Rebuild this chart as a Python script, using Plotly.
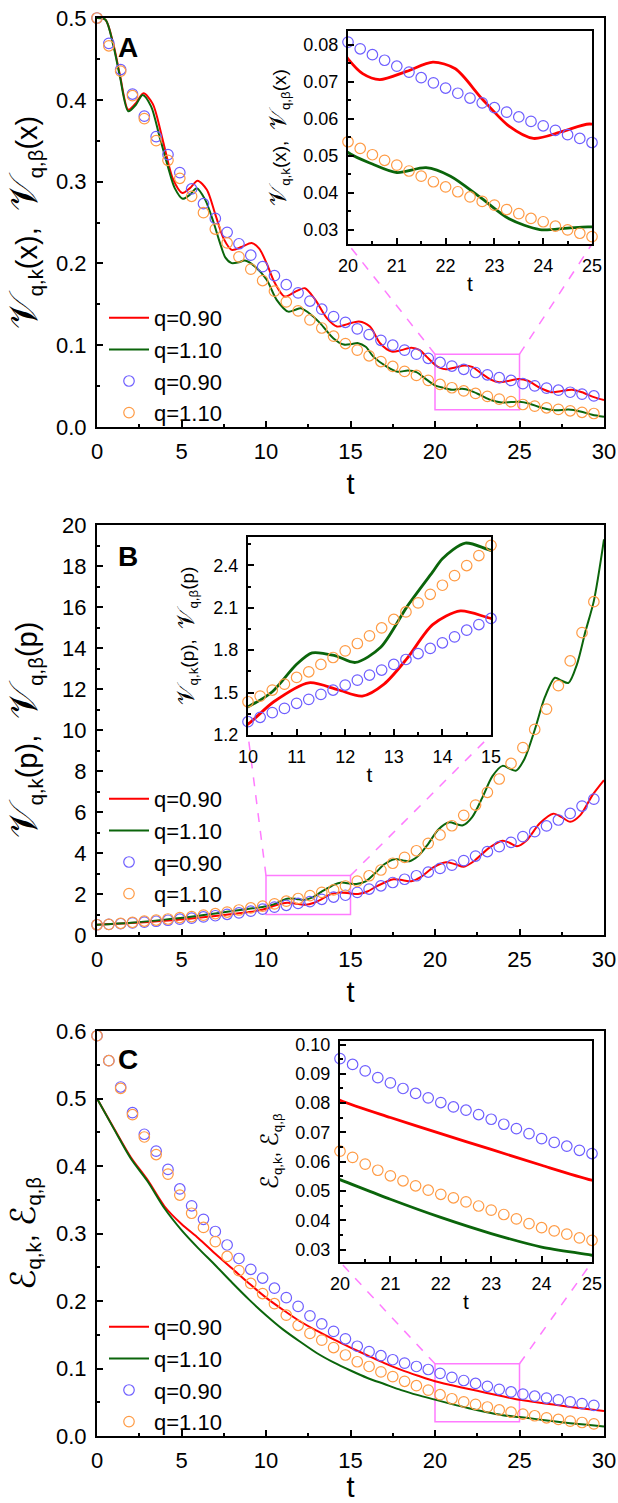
import plotly.graph_objects as go

# ------------------------------------------------------------------ data
# sample times of the circle series (main panels) and of the inset circles
t_circ = [0, 0.7, 1.4, 2.1, 2.8, 3.5, 4.2, 4.9, 5.6, 6.3, 7.0, 7.7, 8.4, 9.1, 9.8,
          10.5, 11.2, 11.9, 12.6, 13.3, 14.0, 14.7, 15.4, 16.1, 16.8, 17.5, 18.2,
          18.9, 19.6, 20.3, 21.0, 21.7, 22.4, 23.1, 23.8, 24.5, 25.2, 25.9, 26.6,
          27.3, 28.0, 28.7, 29.4]
t_inset_AC = [20, 20.25, 20.5, 20.75, 21, 21.25, 21.5, 21.75, 22, 22.25, 22.5,
              22.75, 23, 23.25, 23.5, 23.75, 24, 24.25, 24.5, 24.75, 25]
t_inset_B = [10, 10.25, 10.5, 10.75, 11, 11.25, 11.5, 11.75, 12, 12.25, 12.5,
             12.75, 13, 13.25, 13.5, 13.75, 14, 14.25, 14.5, 14.75, 15]

# Panel A : V(x)
tA_red = [0, 0.5, 0.97, 1.36, 1.85, 2.3, 2.75, 3.3, 3.9, 4.5, 5.05, 5.5, 5.95, 6.5, 7.0,
          7.5, 7.97, 8.55, 9.15, 9.6, 10.04, 10.5, 11.1, 11.7, 12.3, 12.9, 13.6, 14.2,
          14.85, 15.5, 16.15, 16.75, 17.44, 18.0, 18.6, 19.1, 19.5, 20.0, 20.3, 20.65,
          21.2, 21.74, 22.2, 22.74, 23.3, 23.8, 24.4, 24.95, 25.5, 26.2, 26.9, 27.5,
          28.1, 28.7, 29.4, 30.0]
vA_red = [0.500, 0.498, 0.468, 0.430, 0.388, 0.396, 0.408, 0.395, 0.350, 0.303, 0.286,
          0.292, 0.301, 0.290, 0.260, 0.230, 0.2166, 0.220, 0.2248, 0.218, 0.200, 0.177,
          0.1595, 0.165, 0.1697, 0.156, 0.133, 0.1228, 0.126, 0.129, 0.1228, 0.1024,
          0.0922, 0.094, 0.097, 0.094, 0.086, 0.0762, 0.0722, 0.0706, 0.0728, 0.0753,
          0.0735, 0.0655, 0.0580, 0.0547, 0.0566, 0.0586, 0.0565, 0.0480, 0.0425,
          0.0440, 0.0455, 0.0425, 0.0365, 0.0330]
tA_green = [0, 0.5, 0.97, 1.36, 1.85, 2.3, 2.7, 3.2, 3.7, 4.2, 4.6, 5.07, 5.5, 5.9, 6.4,
            6.9, 7.28, 7.6, 7.97, 8.4, 8.75, 9.3, 10.04, 10.63, 11.32, 11.7, 12.05,
            12.5, 13.2, 13.98, 14.6, 15.1, 15.45, 15.9, 16.35, 17.14, 17.8, 18.4, 18.9,
            19.5, 20.0, 20.5, 21.0, 21.6, 22.1, 22.7, 23.3, 23.93, 24.5, 25.0, 25.6,
            26.3, 27.1, 27.9, 28.6, 29.3, 30.0]
vA_green = [0.500, 0.498, 0.466, 0.428, 0.386, 0.394, 0.406, 0.392, 0.355, 0.318, 0.292,
            0.279, 0.284, 0.292, 0.278, 0.250, 0.2248, 0.207, 0.2003, 0.2015, 0.2035,
            0.197, 0.180, 0.1555, 0.141, 0.143, 0.1453, 0.140, 0.127, 0.1086, 0.1008,
            0.1015, 0.1025, 0.098, 0.086, 0.0738, 0.0676, 0.069, 0.067, 0.058, 0.0509,
            0.0478, 0.0455, 0.0468, 0.0445, 0.0389, 0.0330, 0.0301, 0.0305, 0.0308,
            0.0285, 0.0235, 0.0205, 0.0213, 0.0190, 0.0150, 0.0125]
vA_blue = [0.500, 0.469, 0.437, 0.407, 0.380, 0.355, 0.333, 0.311, 0.291, 0.273, 0.255,
           0.238, 0.224, 0.210, 0.196, 0.185, 0.174, 0.164, 0.154, 0.144, 0.135, 0.128,
           0.120, 0.113, 0.106, 0.100, 0.094, 0.089, 0.084, 0.0789, 0.0745, 0.0705,
           0.0666, 0.0638, 0.0603, 0.0569, 0.0530, 0.0503, 0.0475, 0.0450, 0.0425,
           0.0402, 0.0380]
vA_orange = [0.500, 0.466, 0.435, 0.405, 0.377, 0.350, 0.326, 0.304, 0.282, 0.262, 0.242,
             0.225, 0.208, 0.193, 0.179, 0.166, 0.153, 0.142, 0.131, 0.121, 0.111, 0.102,
             0.094, 0.087, 0.080, 0.074, 0.068, 0.063, 0.057, 0.052, 0.048, 0.0441,
             0.041, 0.0374, 0.0341, 0.031, 0.0275, 0.0255, 0.0235, 0.0215, 0.0198,
             0.018, 0.0165]
vA_blue_in = [0.0807, 0.0789, 0.0773, 0.0758, 0.0742, 0.0726, 0.0711, 0.0697, 0.0683,
              0.0669, 0.0656, 0.0643, 0.0630, 0.0618, 0.0605, 0.0593, 0.0581, 0.0569,
              0.0557, 0.0547, 0.0536]
vA_orange_in = [0.0538, 0.0520, 0.0503, 0.0488, 0.0475, 0.0459, 0.0445, 0.0430, 0.0416,
                0.0403, 0.0389, 0.0377, 0.0367, 0.0355, 0.0344, 0.0331, 0.0322, 0.0310,
                0.0300, 0.0291, 0.0282]

# Panel B : V(p)
tB_red = [0, 2, 4, 6, 7, 8, 9, 9.5, 10.0, 10.53, 11.25, 11.85, 12.35, 12.8, 13.27, 13.8,
          14.37, 15.0, 15.45, 16.0, 16.6, 17.55, 18.1, 18.6, 19.2, 19.9, 20.65, 21.2,
          21.7, 22.3, 23.2, 24.0, 24.4, 24.85, 25.4, 26.2, 27.0, 27.5, 28.0, 28.6, 29.3,
          30.0]
vB_red = [0.50, 0.58, 0.69, 0.84, 0.93, 1.02, 1.12, 1.19, 1.278, 1.435, 1.569, 1.52,
          1.475, 1.56, 1.74, 1.98, 2.077, 2.024, 2.00, 2.12, 2.40, 2.72, 2.67, 2.62, 2.85,
          3.30, 3.55, 3.45, 3.33, 3.60, 4.25, 4.60, 4.50, 4.33, 4.60, 5.45, 5.92, 5.75,
          5.52, 5.85, 6.80, 7.55]
tB_green = [0, 2, 4, 6, 7, 8, 9, 9.5, 10.0, 10.5, 11.0, 11.32, 11.8, 12.21, 12.73, 13.27,
            13.8, 14.0, 14.47, 15.0, 15.35, 15.9, 16.5, 17.0, 17.6, 18.1, 18.5, 19.0,
            19.6, 20.2, 20.85, 21.3, 21.65, 22.2, 22.8, 23.4, 24.0, 24.4, 24.8, 25.3,
            25.9, 26.5, 27.1, 27.5, 27.9, 28.4, 28.9, 29.4, 30.0]
vB_green = [0.50, 0.60, 0.75, 0.94, 1.05, 1.17, 1.28, 1.33, 1.40, 1.506, 1.70, 1.781,
            1.76, 1.713, 1.82, 2.106, 2.353, 2.447, 2.557, 2.506, 2.49, 2.62, 3.05, 3.45,
            3.70, 3.64, 3.60, 3.85, 4.45, 5.15, 5.50, 5.40, 5.35, 5.75, 6.70, 7.75, 8.25,
            8.12, 8.02, 8.60, 10.0, 11.6, 12.55, 12.4, 12.3, 13.2, 14.8, 16.3, 19.3]
vB_blue = [0.50, 0.52, 0.55, 0.59, 0.63, 0.67, 0.72, 0.77, 0.82, 0.88, 0.94, 1.01, 1.08,
           1.16, 1.26, 1.36, 1.45, 1.54, 1.63, 1.74, 1.85, 1.94, 2.08, 2.24, 2.40, 2.56,
           2.72, 2.89, 3.07, 3.25, 3.41, 3.63, 3.85, 4.07, 4.31, 4.52, 4.80, 5.04, 5.32,
           5.61, 5.93, 6.29, 6.63]
vB_orange = [0.50, 0.52, 0.57, 0.62, 0.68, 0.73, 0.78, 0.85, 0.90, 0.97, 1.04, 1.12,
             1.22, 1.32, 1.41, 1.52, 1.65, 1.78, 1.92, 2.08, 2.20, 2.39, 2.63, 2.89, 3.17,
             3.50, 3.79, 4.11, 4.47, 4.88, 5.33, 5.84, 6.34, 6.96, 7.61, 8.37, 9.14,
             10.03, 11.02, 12.16, 13.37, 14.75, 16.26]
vB_blue_in = [1.294, 1.325, 1.358, 1.388, 1.424, 1.452, 1.487, 1.518, 1.553, 1.588, 1.624,
              1.659, 1.699, 1.734, 1.776, 1.812, 1.852, 1.894, 1.941, 1.981, 2.024]
vB_orange_in = [1.435, 1.475, 1.518, 1.560, 1.607, 1.647, 1.699, 1.748, 1.795, 1.847,
                1.901, 1.957, 2.017, 2.070, 2.134, 2.195, 2.259, 2.327, 2.398, 2.469, 2.541]

# Panel C : energies
tC_line = [0, 1, 2, 3, 4, 5, 6, 7, 8, 9, 10, 11, 12, 13, 14, 15, 16, 17, 18, 19, 20,
           21, 22, 23, 24, 25, 26, 27, 28, 29, 30]
vC_red = [0.500, 0.456, 0.413, 0.379, 0.340, 0.314, 0.293, 0.270, 0.248, 0.226, 0.205,
          0.187, 0.170, 0.156, 0.143, 0.131, 0.1195, 0.108, 0.098, 0.0892, 0.0810, 0.0751,
          0.0696, 0.0642, 0.0588, 0.0537, 0.0500, 0.0465, 0.0430, 0.0400, 0.0370]
vC_green = [0.500, 0.455, 0.411, 0.377, 0.337, 0.305, 0.278, 0.253, 0.227, 0.202, 0.179,
            0.158, 0.140, 0.123, 0.109, 0.097, 0.086, 0.077, 0.068, 0.0605, 0.0539,
            0.0472, 0.0410, 0.0355, 0.0309, 0.0281, 0.0250, 0.0220, 0.0190, 0.0165, 0.0140]
vC_blue = [0.593, 0.556, 0.517, 0.479, 0.447, 0.422, 0.395, 0.366, 0.341, 0.321, 0.303,
           0.283, 0.263, 0.247, 0.234, 0.219, 0.205, 0.192, 0.178, 0.166, 0.155, 0.144,
           0.133, 0.125, 0.119, 0.113, 0.108, 0.103, 0.0985, 0.0928, 0.0869, 0.0822,
           0.0779, 0.0736, 0.0691, 0.0653, 0.0620, 0.0590, 0.0562, 0.0535, 0.0505,
           0.0480, 0.0455]
vC_orange = [0.593, 0.556, 0.515, 0.476, 0.443, 0.417, 0.388, 0.357, 0.330, 0.309, 0.288,
             0.266, 0.245, 0.226, 0.211, 0.196, 0.179, 0.164, 0.152, 0.142, 0.131, 0.120,
             0.110, 0.103, 0.095, 0.088, 0.081, 0.0745, 0.068, 0.0612, 0.0552, 0.0506,
             0.0468, 0.0430, 0.0386, 0.0353, 0.0325, 0.0300, 0.0270, 0.0245, 0.0220,
             0.0200, 0.0180]
vC_blue_in = [0.0952, 0.0932, 0.0910, 0.0887, 0.0869, 0.0850, 0.0833, 0.0818, 0.0802,
              0.0787, 0.0776, 0.0761, 0.0745, 0.0728, 0.0713, 0.0696, 0.0679, 0.0666,
              0.0653, 0.0639, 0.0628]
vC_orange_in = [0.0636, 0.0615, 0.0592, 0.0571, 0.0552, 0.0535, 0.0518, 0.0503, 0.0489,
                0.0477, 0.0463, 0.0449, 0.0435, 0.0420, 0.0405, 0.0389, 0.0375, 0.0364,
                0.0353, 0.0340, 0.0332]

# zoom windows drawn in the main panels: [t0, t1, v0, v1]
zoom_A = [20, 25, 0.021, 0.089]
zoom_B = [10, 15, 1.0, 2.9]
zoom_C = [20, 25, 0.021, 0.107]

legend_names = ["q=0.90", "q=1.10", "q=0.90", "q=1.10"]

# ------------------------------------------------------------------ style
W, H = 618, 1503
FONT = "Liberation Sans, Arial, DejaVu Sans, sans-serif"
RED = "#FF0000"
GREEN = "#0B650B"
BLUE = "#6E5EFF"
ORANGE = "#FF9B45"
PINK = "#FF7BFF"


def xd(a, b):
    return [a / W, b / W]


def yd(top, bottom):
    return [1 - bottom / H, 1 - top / H]


def vtitle(arg, big):
    s = "<span style='font-size:%dpx'>𝒱</span>" % big
    return (s + "<sub>q,k</sub>(" + arg + "),\u00a0\u00a0" + s + "<sub>q,β</sub>(" + arg + ")")


def etitle(big):
    s = "<span style='font-size:%dpx'>ℰ</span>" % big
    return s + "<sub>q,k</sub>,\u00a0" + s + "<sub>q,β</sub>"


panels = [
    dict(key="A", main=1, inset=2,
         mx=xd(97, 604), my=yd(18, 427), yr=[0, 0.5], ydt=0.1, ymn=0.05, yfmt=".1f", y0=0,
         ix=xd(348, 592), iy=yd(31, 244), ixr=[20, 25], iyr=[0.0262, 0.0837],
         iydt=0.01, iymn=0.005, iyfmt=".2f", iy0=0.03,
         red=(tA_red, vA_red), green=(tA_green, vA_green),
         blue=vA_blue, orange=vA_orange, tin=t_inset_AC,
         bin=vA_blue_in, oin=vA_orange_in, zoom=zoom_A,
         ytitle=vtitle("x", 40), iytitle=vtitle("x", 24),
         leg_top=297, lab_y=48, ystand=10, iystand=12),
    dict(key="B", main=3, inset=4,
         mx=xd(97, 604), my=yd(525, 935), yr=[0, 20], ydt=2, ymn=1, yfmt="d", y0=0,
         ix=xd(248, 491), iy=yd(537, 735), ixr=[10, 15], iyr=[1.2, 2.6],
         iydt=0.3, iymn=0.15, iyfmt=".1f", iy0=1.2,
         red=(tB_red, vB_red), green=(tB_green, vB_green),
         blue=vB_blue, orange=vB_orange, tin=t_inset_B,
         bin=vB_blue_in, oin=vB_orange_in, zoom=zoom_B,
         ytitle=vtitle("p", 40), iytitle=vtitle("p", 24),
         leg_top=778, lab_y=556, ystand=16, iystand=14),
    dict(key="C", main=5, inset=6,
         mx=xd(97, 604), my=yd(1031, 1436), yr=[0, 0.6], ydt=0.1, ymn=0.05, yfmt=".1f", y0=0,
         ix=xd(340, 592), iy=yd(1041, 1262), ixr=[20, 25], iyr=[0.0258, 0.1012],
         iydt=0.01, iymn=0.005, iyfmt=".2f", iy0=0.03,
         red=(tC_line, vC_red), green=(tC_line, vC_green),
         blue=vC_blue, orange=vC_orange, tin=t_inset_AC,
         bin=vC_blue_in, oin=vC_orange_in, zoom=zoom_C,
         ytitle=etitle(34), iytitle=etitle(24),
         leg_top=1306, lab_y=1059, ystand=12, iystand=12),
]

fig = go.Figure()
layout = dict(
    width=W, height=H, margin=dict(l=0, r=0, t=0, b=0, autoexpand=False),
    paper_bgcolor="white", plot_bgcolor="rgba(0,0,0,0)",
    font=dict(family=FONT, color="black"),
    shapes=[], annotations=[],
)


def axname(i, kind):
    return kind + ("" if i == 1 else str(i))


def ax_common(size, lw):
    return dict(showgrid=False, zeroline=False, showline=True, linecolor="black",
                linewidth=lw, mirror=True, ticks="inside", tickcolor="black",
                tickwidth=1.5, ticklen=6, tickfont=dict(size=size, family=FONT),
                ticklabelstandoff=4, automargin=False)


for li, p in enumerate(panels):
    m, n = p["main"], p["inset"]
    mxa, mya = axname(m, "x"), axname(m, "y")
    ixa, iya = axname(n, "x"), axname(n, "y")
    legname = "legend" if li == 0 else "legend%d" % (li + 1)

    # main traces
    specs = [
        (p["red"][0], p["red"][1], "lines", RED, 0),
        (p["green"][0], p["green"][1], "lines", GREEN, 1),
        (t_circ, p["blue"], "markers", BLUE, 2),
        (t_circ, p["orange"], "markers", ORANGE, 3),
    ]
    for tx, vy, mode, col, k in specs:
        kw = dict(x=tx, y=vy, mode=mode, name=legend_names[k], legend=legname,
                  xaxis=mxa, yaxis=mya, showlegend=True)
        if mode == "lines":
            kw["line"] = dict(color=col, width=2, shape="spline", smoothing=0.8)
        else:
            kw["marker"] = dict(symbol="circle-open", size=10.5, color=col,
                                line=dict(width=1.2, color=col))
            kw["cliponaxis"] = False
        fig.add_trace(go.Scatter(**kw))

    # inset traces
    ispecs = [
        (p["red"][0], p["red"][1], "lines", RED),
        (p["green"][0], p["green"][1], "lines", GREEN),
        (p["tin"], p["bin"], "markers", BLUE),
        (p["tin"], p["oin"], "markers", ORANGE),
    ]
    for tx, vy, mode, col in ispecs:
        kw = dict(x=tx, y=vy, mode=mode, xaxis=ixa, yaxis=iya, showlegend=False)
        if mode == "lines":
            kw["line"] = dict(color=col, width=2.8, shape="spline", smoothing=0.8)
        else:
            kw["marker"] = dict(symbol="circle-open", size=10.5, color=col,
                                line=dict(width=1.2, color=col))
            kw["cliponaxis"] = False
        fig.add_trace(go.Scatter(**kw))

    # main axes
    xa = ax_common(22, 2)
    xa.update(domain=p["mx"], range=[0, 30], tick0=0, dtick=5, anchor=mya,
              minor=dict(ticks="inside", ticklen=3, tickwidth=1.5, tickcolor="black",
                         tick0=0, dtick=2.5),
              title=dict(text="t", font=dict(size=29, family=FONT), standoff=10))
    ya = ax_common(22, 2)
    ya.update(domain=p["my"], range=p["yr"], tick0=p["y0"], dtick=p["ydt"],
              tickformat=p["yfmt"], anchor=mxa,
              minor=dict(ticks="inside", ticklen=3, tickwidth=1.5, tickcolor="black",
                         tick0=p["y0"], dtick=p["ymn"]),
              title=dict(text=p["ytitle"], font=dict(size=29, family=FONT),
                         standoff=p["ystand"]))
    layout[axname(m, "xaxis")] = xa
    layout[axname(m, "yaxis")] = ya

    # inset axes
    ixa_d = ax_common(18, 2)
    ixa_d.update(domain=p["ix"], range=p["ixr"], dtick=1, anchor=iya,
                 minor=dict(ticks="inside", ticklen=3, tickwidth=1.5, tickcolor="black",
                            dtick=0.5),
                 title=dict(text="t", font=dict(size=21, family=FONT), standoff=2))
    iya_d = ax_common(18, 2)
    iya_d.update(domain=p["iy"], range=p["iyr"], tick0=p["iy0"], dtick=p["iydt"],
                 tickformat=p["iyfmt"], anchor=ixa,
                 minor=dict(ticks="inside", ticklen=3, tickwidth=1.5, tickcolor="black",
                            tick0=p["iy0"], dtick=p["iymn"]),
                 title=dict(text=p["iytitle"], font=dict(size=19, family=FONT),
                            standoff=p["iystand"]))
    layout[axname(n, "xaxis")] = ixa_d
    layout[axname(n, "yaxis")] = iya_d

    # zoom rectangle (data coords of main panel)
    z0, z1, zv0, zv1 = p["zoom"]
    layout["shapes"].append(dict(type="rect", xref=mxa, yref=mya, x0=z0, x1=z1,
                                 y0=zv0, y1=zv1, line=dict(color=PINK, width=1.5),
                                 layer="below"))

    # dashed connectors: from rectangle top corners to inset bottom corners
    def to_paper(t, v):
        xdm, ydm = p["mx"], p["my"]
        px = xdm[0] + (t - 0) / 30 * (xdm[1] - xdm[0])
        py = ydm[0] + (v - p["yr"][0]) / (p["yr"][1] - p["yr"][0]) * (ydm[1] - ydm[0])
        return px, py

    for tz, ix_edge in ((z0, p["ix"][0]), (z1, p["ix"][1])):
        sx, sy = to_paper(tz, zv1)
        layout["shapes"].append(dict(type="line", xref="paper", yref="paper",
                                     x0=sx, y0=sy, x1=ix_edge, y1=p["iy"][0],
                                     line=dict(color=PINK, width=1.5, dash="dash"),
                                     layer="below"))

    # legend
    layout[legname] = dict(x=104 / W, y=1 - p["leg_top"] / H, xanchor="left",
                           yanchor="top", bgcolor="rgba(0,0,0,0)", borderwidth=0,
                           font=dict(size=22, family=FONT), tracegroupgap=0,
                           itemwidth=40, traceorder="normal")

    # panel letter
    layout["annotations"].append(dict(text="<b>%s</b>" % p["key"], xref="paper",
                                      yref="paper", x=128 / W, y=1 - p["lab_y"] / H,
                                      xanchor="center", yanchor="middle",
                                      showarrow=False,
                                      font=dict(size=28, family=FONT, color="black")))

fig.update_layout(**layout)
# remove the default page margin so the 618x1503 figure fills the window exactly
fig.write_html("out.html",
               config={"displayModeBar": False},
               post_script="document.body.style.margin='0';"
                           "document.body.style.overflow='hidden';")
